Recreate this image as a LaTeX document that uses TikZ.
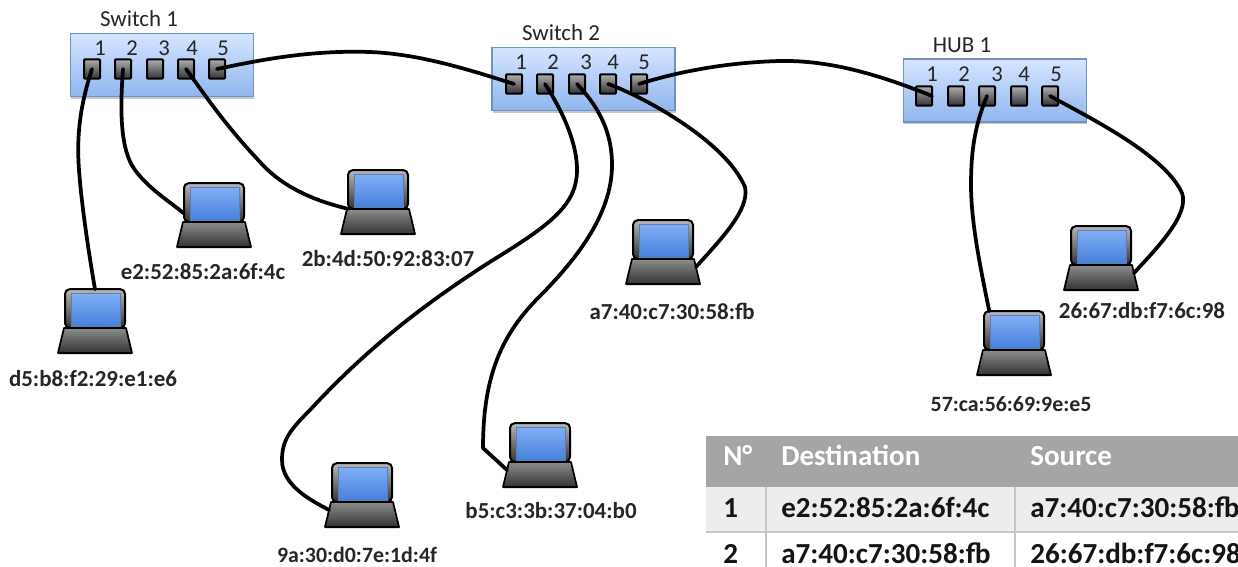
\documentclass[tikz,border=0pt]{standalone}
\usepackage{fontspec}
\setmainfont{Carlito}
\usetikzlibrary{shadows}
\definecolor{boxtop}{HTML}{D6E5FF}
\definecolor{boxmid}{HTML}{C3D7FA}
\definecolor{boxbot}{HTML}{90B6EE}
\definecolor{boxedge}{HTML}{6E93C4}
\definecolor{hdrgrey}{HTML}{A5A5A5}
\definecolor{rowa}{HTML}{EDEDED}
\definecolor{rowb}{HTML}{FFFFFF}
\definecolor{tabline}{HTML}{C6C6C6}
\definecolor{inktext}{HTML}{262626}
\definecolor{scrtop}{HTML}{7FAEF5}
\definecolor{scrbot}{HTML}{4680DC}
\definecolor{scredge}{HTML}{5C7FB0}
\tikzset{
  devbox/.style={draw=boxedge,line width=1.2pt,top color=boxtop,middle color=boxmid,bottom color=boxbot,
    minimum width=137pt,minimum height=47.5pt,inner sep=0pt,outer sep=0pt,
    drop shadow={shadow xshift=0.6pt,shadow yshift=-1.5pt,opacity=.22,fill=black}},
  portbox/.style={draw=black,line width=1.5pt,rounded corners=.8pt,top color=black!32,bottom color=black!80,
    minimum width=12pt,minimum height=14.5pt,inner sep=0pt,outer sep=0pt},
  devname/.style={font=\fontsize{17.2}{19}\selectfont,text=inktext,inner sep=0pt},
  portnum/.style={font=\fontsize{17}{19}\selectfont,text=inktext,inner sep=0pt},
  maclabel/.style={font=\fontsize{17.2}{19}\selectfont\bfseries,text=inktext,inner sep=0pt},
  maclabelsmall/.style={font=\fontsize{16.4}{19}\selectfont\bfseries,text=inktext,inner sep=0pt},
  lapbase/.style={draw=black,line width=1.3pt,line join=round,top color=black!45,bottom color=black!80,
    drop shadow={shadow xshift=0pt,shadow yshift=-1.3pt,opacity=.2,fill=black}},
  lapbody/.style={draw=black,line width=1.5pt,rounded corners=3.5pt,top color=black!28,bottom color=black!80,
    minimum width=45pt,minimum height=29pt,inner sep=0pt,outer sep=0pt},
  lapscreen/.style={draw=scredge,line width=.7pt,top color=scrtop,bottom color=scrbot,
    minimum width=36.5pt,minimum height=24.5pt,inner sep=0pt},
  cable/.style={draw=black,line width=2.8pt,line cap=round,line join=round},
  hdrcell/.style={font=\fontsize{21.8}{24}\selectfont\bfseries,text=white,anchor=base west,inner sep=0pt},
  bodycell/.style={font=\fontsize{21.8}{24}\selectfont\bfseries,text=black!92,anchor=base west,inner sep=0pt},
}
\newcommand{\laptop}[7][maclabel]{%
  \begin{scope}[shift={(#3,#4)}]
    \draw[lapbase] (-31,0) -- (31,0) -- (37,25) -- (-37,25) -- cycle;
    \node[lapbody] (#2) at (0,-19.5) {};
    \node[lapscreen] (#2-s) at (1,-18) {};
    \coordinate (#2-l) at (-33,8);
    \coordinate (#2-r) at (33,8);
  \end{scope}
  \node[#1] (#2-t) at (#6,#7) {#5};
}
\newcommand{\ports}[7]{%
  \node[portbox] (#1a) at (#3,#2) {};
  \node[portbox] (#1b) at (#4,#2) {};
  \node[portbox] (#1c) at (#5,#2) {};
  \node[portbox] (#1d) at (#6,#2) {};
  \node[portbox] (#1e) at (#7,#2) {};
}
\begin{document}
\begin{tikzpicture}[x=.75pt,y=-.75pt]
\useasboundingbox (0,0) rectangle (1238,567);
\fill[white] (0,0) rectangle (1238,567);
% devices
\node[devbox] (sw1) at (162,65) {};
\node[devbox] (sw2) at (583.5,79) {};
\node[devbox] (hub) at (995,90.5) {};
\node[devname] (sw1t) at (139,19) {Switch 1};
\node[devname] (sw2t) at (561,33) {Switch 2};
\node[devname] (hubt) at (962,45) {HUB 1};
\ports{s}{69}{92}{123}{155}{186}{217}
\ports{t}{84}{514}{545}{577}{608}{639}
\ports{h}{96}{924}{956}{987}{1019}{1050}
\foreach \n/\x in {1/100,2/132,3/164,4/192,5/223}
  \node[portnum] (sn\n) at (\x,48) {\n};
\foreach \n/\x in {1/521,2/553,3/586,4/613,5/644}
  \node[portnum] (tn\n) at (\x,62) {\n};
\foreach \n/\x in {1/932,2/964,3/997,4/1024,5/1056}
  \node[portnum] (hn\n) at (\x,74) {\n};
% laptops
\laptop{lapD}{95}{328}{d5:b8:f2:29:e1:e6}{93}{379}
\laptop{lapE}{214}{222}{e2:52:85:2a:6f:4c}{203}{272}
\laptop{lapF}{378}{209}{2b:4d:50:92:83:07}{388}{259}
\laptop{lapA}{663}{259}{a7:40:c7:30:58:fb}{672}{311}
\laptop[maclabelsmall]{lapN}{362}{502}{9a:30:d0:7e:1d:4f}{357}{555}
\laptop{lapB}{540}{462}{b5:c3:3b:37:04:b0}{551}{511}
\laptop[maclabelsmall]{lapG}{1014}{350}{57:ca:56:69:9e:e5}{1011}{404}
\laptop{lapH}{1101}{265}{26:67:db:f7:6c:98}{1142}{311}
% cables
\draw[cable] (sa.center) .. controls (82,100) and (76,130) .. (79,170) .. controls (82,210) and (90,260) .. (lapD.north);
\draw[cable] (sb.center) .. controls (120,110) and (120,150) .. (135,170) .. controls (148,188) and (170,202) .. (lapE.200);
\draw[cable] (sd.center) .. controls (205,95) and (225,125) .. (260,162) .. controls (285,190) and (320,202) .. (lapF.south west);
\draw[cable] (se.center) .. controls (260,60) and (310,50) .. (370,52) .. controls (420,54) and (470,70) .. (ta.center);
\draw[cable] (tb.center) .. controls (565,115) and (577,145) .. (577,170) .. controls (577,205) and (550,225) .. (493,260) .. controls (430,300) and (370,345) .. (310,410) .. controls (290,430) and (282,440) .. (282,460) .. controls (282,485) and (310,500) .. (lapN-l);
\draw[cable] (tc.center) .. controls (597,105) and (612,130) .. (612,165) .. controls (612,215) and (575,260) .. (543,293) .. controls (505,330) and (483,370) .. (483,448) -- (lapB-l);
\draw[cable] (td.center) .. controls (640,95) and (725,140) .. (745,187) .. controls (750,210) and (720,240) .. (lapA-r);
\draw[cable] (te.center) .. controls (690,68) and (740,62) .. (780,61) .. controls (830,60) and (880,75) .. (ha.east);
\draw[cable] (hc.center) .. controls (975,125) and (971,150) .. (971,185) .. controls (971,225) and (982,275) .. (lapG.142);
\draw[cable] (he.center) .. controls (1090,118) and (1165,155) .. (1182,193) .. controls (1190,215) and (1155,250) .. (lapH-r);
% table
\fill[hdrgrey] (706,436) rectangle (1238,487);
\fill[rowa] (706,487) rectangle (1238,532);
\fill[rowb] (706,532) rectangle (1238,567);
\draw[tabline,line width=1.4pt] (706,532) -- (1238,532);
\draw[tabline,line width=1.4pt] (766,487) -- (766,567);
\draw[tabline,line width=1.4pt] (1015,487) -- (1015,567);
\node[hdrcell] (h1) at (723,465) {N°};
\node[hdrcell] (h2) at (781,465) {Destination};
\node[hdrcell] (h3) at (1030,465) {Source};
\node[bodycell] (a1) at (723,517) {1};
\node[bodycell] (a2) at (781,517) {e2:52:85:2a:6f:4c};
\node[bodycell] (a3) at (1030,517) {a7:40:c7:30:58:fb};
\node[bodycell] (b1) at (723,563) {2};
\node[bodycell] (b2) at (781,563) {a7:40:c7:30:58:fb};
\node[bodycell] (b3) at (1030,563) {26:67:db:f7:6c:98};
\end{tikzpicture}
\end{document}
